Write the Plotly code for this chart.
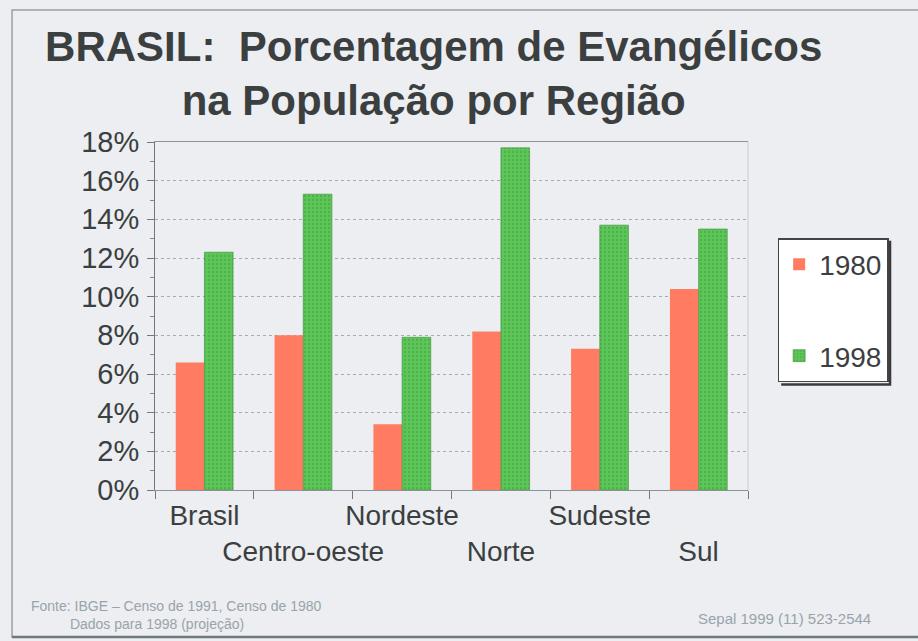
import plotly.graph_objects as go

regions = ["Brasil", "Centro-oeste", "Nordeste", "Norte", "Sudeste", "Sul"]
tick_labels = ["Brasil", "<br>Centro-oeste", "Nordeste", "<br>Norte", "Sudeste", "<br>Sul"]
series_names = ["1980", "1998"]
values_1980 = [6.6, 8.0, 3.4, 8.2, 7.3, 10.4]
values_1998 = [12.3, 15.3, 7.9, 17.7, 13.7, 13.5]
y_ticks = [0, 2, 4, 6, 8, 10, 12, 14, 16, 18]
y_tick_labels = ["0%", "2%", "4%", "6%", "8%", "10%", "12%", "14%", "16%", "18%"]

FONT = "Liberation Sans, Arial, sans-serif"
TXT = "#3b3f3f"

fig = go.Figure()
fig.add_trace(go.Bar(x=regions, y=values_1980, name=series_names[0], legendgroup="a",
                     marker=dict(color="#ff7c62", line=dict(width=0))))
fig.add_trace(go.Bar(x=regions, y=values_1998, name=series_names[1], legendgroup="b",
                     marker=dict(color="#5cc658", line=dict(width=0.6, color="#3f8a3c"),
                                 pattern=dict(shape=".", fgcolor="#3f9a3c", size=4, solidity=0.25))))

fig.update_layout(
    width=918, height=641,
    paper_bgcolor="#eceef2", plot_bgcolor="#eceef2",
    margin=dict(l=155, r=170, t=142, b=151, autoexpand=False),
    font=dict(family=FONT, color=TXT, size=28),
    barmode="group", bargap=0.42, bargroupgap=0,
    title=dict(text="BRASIL:&nbsp; Porcentagem de Evangélicos<br>na População por Região",
               font=dict(family=FONT, size=42, color=TXT, weight="bold"),
               xref="paper", x=0.47, xanchor="center",
               yref="container", y=0.905, yanchor="top"),
    legend=dict(x=1.05, xanchor="left", y=0.724, yanchor="top",
                bgcolor="#ffffff", bordercolor="#444444", borderwidth=1.5,
                font=dict(size=28, color=TXT), tracegroupgap=52,
                traceorder="grouped", itemwidth=30),
    showlegend=True,
)

fig.update_xaxes(
    type="category", tickmode="array", tickvals=regions, ticktext=tick_labels,
    tickson="boundaries", ticks="outside", ticklen=8, tickcolor="#777",
    showline=True, linecolor="#8a9498", linewidth=1, mirror=True,
    tickfont=dict(size=28, color=TXT), showgrid=False, tickangle=0, automargin=False,
)
fig.update_yaxes(
    range=[0, 18], tickmode="array", tickvals=y_ticks, ticktext=y_tick_labels,
    ticks="outside", ticklen=7, tickcolor="#777",
    minor=dict(dtick=1, ticks="outside", ticklen=4, tickcolor="#888"),
    showline=True, linecolor="#777", linewidth=1,
    showgrid=True, gridcolor="#a4aaae", griddash="dot", gridwidth=1,
    tickfont=dict(size=29, color=TXT), zeroline=False, automargin=False,
    ticklabelstandoff=2,
)

# footer notes
fig.add_annotation(text="Fonte: IBGE – Censo de 1991, Censo de 1980<br>&nbsp;&nbsp;&nbsp;&nbsp;&nbsp;&nbsp;&nbsp;&nbsp;&nbsp;&nbsp;Dados para 1998 (projeção)",
                   xref="paper", yref="paper", x=-0.212, y=-0.305, xanchor="left", yanchor="top",
                   showarrow=False, align="left", font=dict(size=14, color="#9aa3aa"))
fig.add_annotation(text="Sepal 1999 (11) 523-2544",
                   xref="paper", yref="paper", x=1.21, y=-0.34, xanchor="right", yanchor="top",
                   showarrow=False, font=dict(size=15, color="#9aa3aa"))

# slide frame
fig.add_shape(type="rect", xref="paper", yref="paper", x0=-0.2411, x1=1.30, y0=-0.4224, y1=1.379,
              line=dict(color="#9aa0a6", width=1.5), layer="below")
fig.add_shape(type="line", xref="paper", yref="paper", x0=-0.2411, x1=1.30, y0=-0.4224, y1=-0.4224,
              line=dict(color="#6f787c", width=2.5))
# faint right border of plot area
fig.add_shape(type="line", xref="paper", yref="paper", x0=1, x1=1, y0=0, y1=1,
              line=dict(color="#c8ccd0", width=1))
# legend drop shadow
fig.add_shape(type="path", xref="paper", yref="paper",
              path="M 1.2395 0.716 L 1.2395 0.3035 L 1.056 0.3035",
              line=dict(color="#3a3a3a", width=2.5))

fig.write_html("out.html", config={"displayModeBar": False},
               post_script="document.body.style.margin='0';")
